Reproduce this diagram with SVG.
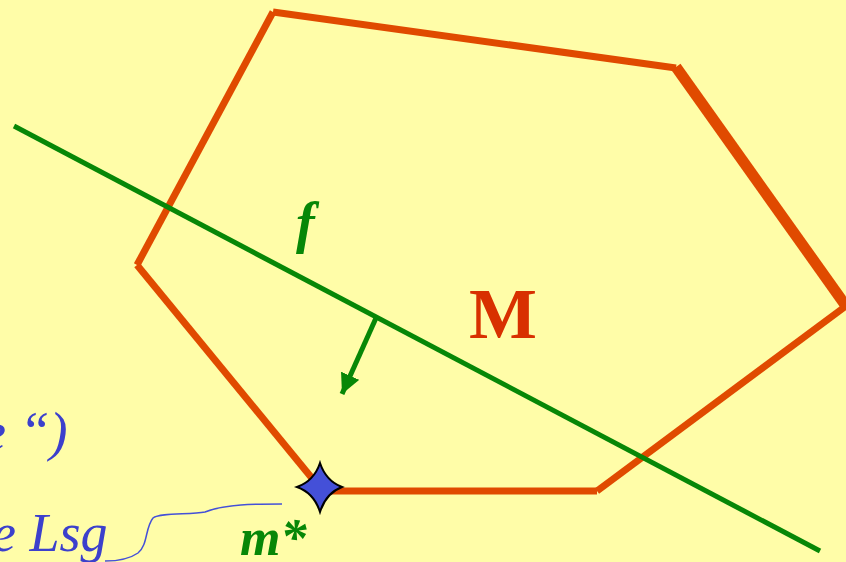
<svg xmlns="http://www.w3.org/2000/svg" width="846" height="562" viewBox="0 0 846 562">
<style>
.edge{stroke:#E04A00;fill:none;stroke-linecap:butt}
.green{stroke:#078707;fill:none}
.serif{font-family:"Liberation Serif","Times New Roman",serif}
</style>
<defs>
<marker id="ah" markerWidth="4" markerHeight="4" refX="4" refY="2" orient="auto" markerUnits="strokeWidth">
<path d="M0,0 L4,2 L0,4 z" fill="#078707"/>
</marker>
</defs>
<rect width="846" height="562" fill="#FFFDA8"/>
<g id="polygon-M">
<line class="edge" x1="273" y1="12" x2="676" y2="68" stroke-width="7"/>
<line class="edge" x1="676" y1="67" x2="846" y2="306" stroke-width="11"/>
<line class="edge" x1="846" y1="306" x2="597" y2="491" stroke-width="7"/>
<line class="edge" x1="597" y1="491" x2="322" y2="491" stroke-width="7"/>
<line class="edge" x1="320" y1="488" x2="137" y2="265" stroke-width="7"/>
<line class="edge" x1="137" y1="265" x2="273" y2="12" stroke-width="7"/>
</g>
<g id="connectors">
<line class="green" x1="14" y1="126" x2="820" y2="551" stroke-width="5"/>
<line class="green" x1="376" y1="318" x2="342" y2="394" stroke-width="5" marker-end="url(#ah)"/>
<path d="M282,504 C255,504 225,504 205,512 C190,515 160,512 153,518 C145,528 148,545 138,553 C128,560 115,561 105,561" fill="none" stroke="#4450D8" stroke-width="1.5"/>
</g>
<g id="m-star">
<path d="M320,463 Q326,481 342,487 Q326,493 320,512 Q314,493 297,487 Q314,481 320,463 Z" fill="#4450D8" stroke="#000" stroke-width="2"/>
</g>
<g id="labels">
<text class="serif" x="296" y="242" font-size="56" font-style="italic" font-weight="bold" fill="#078707">f</text>
<text class="serif" x="469" y="338" font-size="72" font-weight="bold" fill="#D83000">M</text>
<text class="serif" x="240" y="555" font-size="52" font-style="italic" font-weight="bold" fill="#078707">m*</text>
<text class="serif" x="-8" y="551" font-size="54" font-style="italic" fill="#3C40CC">e Lsg</text>
<text class="serif" x="-18" y="450" font-size="54" font-style="italic" fill="#3C40CC">e “)</text>
</g>
</svg>
